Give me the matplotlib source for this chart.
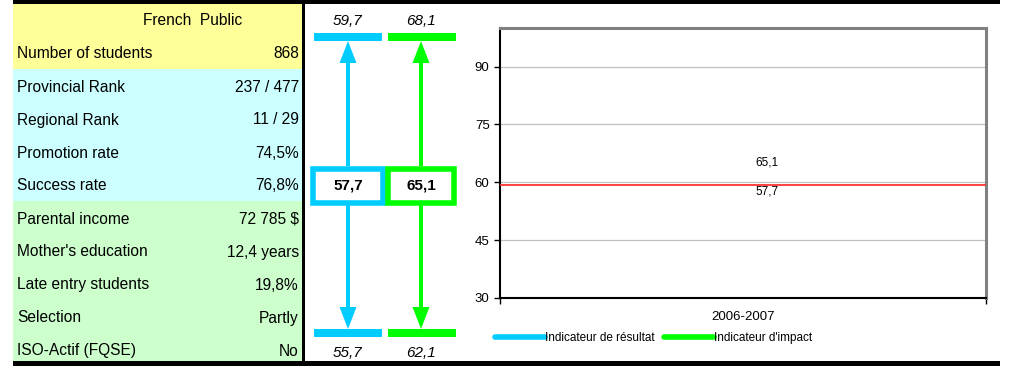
import matplotlib.pyplot as plt
from matplotlib.patches import Rectangle, FancyArrow
from matplotlib.lines import Line2D

plt.rcParams['font.family'] = ['Liberation Sans', 'DejaVu Sans']

# ── Data ───────────────────────────────────────────────────
header = 'French  Public'
row_labels = ['Number of students', 'Provincial Rank', 'Regional Rank',
              'Promotion rate', 'Success rate', 'Parental income',
              "Mother's education", 'Late entry students', 'Selection',
              'ISO-Actif (FQSE)']
row_values = ['868', '237 / 477', '11 / 29', '74,5%', '76,8%', '72 785 $',
              '12,4 years', '19,8%', 'Partly', 'No']
row_groups = ['yellow', 'cyan', 'cyan', 'cyan', 'cyan', 'green', 'green',
              'green', 'green', 'green']

# indicator ranges: (upper, value, lower)
result_range = (59.7, 57.7, 55.7)
impact_range = (68.1, 65.1, 62.1)

years = ['2006-2007']
result_series = [57.7]
impact_series = [65.1]
reference_level = 59.4
series_names = ['Indicateur de résultat', "Indicateur d'impact"]

# ── Styles ─────────────────────────────────────────────────
fill = {'yellow': '#FFFF99', 'cyan': '#CCFFFF', 'green': '#CCFFCC'}
c_result = '#00CCFF'
c_impact = '#00FF00'
W, H = 1013, 366

fig = plt.figure(figsize=(W / 100, H / 100), dpi=100)
bg = fig.add_axes([0, 0, 1, 1])
bg.set_xlim(0, W)
bg.set_ylim(H, 0)
bg.axis('off')

# ── Left table ─────────────────────────────────────────────
row_h = 33
top = 3
all_groups = ['yellow'] + row_groups
for i, grp in enumerate(all_groups):
    y0 = top + i * row_h
    bg.add_patch(Rectangle((13, y0), 289, row_h, color=fill[grp], lw=0))

bg.text(193, top + row_h / 2 + 1, header, ha='center', va='center', fontsize=11.2)
for i, (lab, val) in enumerate(zip(row_labels, row_values)):
    yc = top + (i + 1) * row_h + row_h / 2 + 1.5
    bg.text(17, yc, lab, ha='left', va='center', fontsize=11.2)
    bg.text(299, yc, val, ha='right', va='center', fontsize=11.2)

# black frame lines
bg.add_patch(Rectangle((13, 0), 987, 4, color='black', lw=0, zorder=5))
bg.add_patch(Rectangle((13, 361), 987, 5, color='black', lw=0, zorder=5))
bg.add_patch(Rectangle((302, 3), 3, 358, color='black', lw=0, zorder=5))

# ── Indicator arrows ───────────────────────────────────────
def indicator(xc, bar_x0, bar_x1, box_x0, box_x1, rng, color):
    upper, value, lower = rng
    # top and bottom bars
    bg.add_patch(Rectangle((bar_x0, 33), bar_x1 - bar_x0, 8, color=color, lw=0))
    bg.add_patch(Rectangle((bar_x0, 329), bar_x1 - bar_x0, 8, color=color, lw=0))
    # arrows
    bg.add_patch(FancyArrow(xc, 166, 0, -125, width=4, head_width=17,
                            head_length=22, length_includes_head=True,
                            color=color, lw=0))
    bg.add_patch(FancyArrow(xc, 204, 0, 125, width=4, head_width=17,
                            head_length=22, length_includes_head=True,
                            color=color, lw=0))
    # value box
    bg.add_patch(Rectangle((box_x0 + 2.5, 168.5), box_x1 - box_x0 - 5, 34,
                           facecolor='white', edgecolor=color, lw=4, zorder=3))
    bg.text(xc, 186, f'{value:.1f}'.replace('.', ','), ha='center',
            va='center', fontsize=11, fontweight='bold', zorder=4)
    bg.text(xc, 21, f'{upper:.1f}'.replace('.', ','), ha='center',
            va='center', fontsize=11, style='italic')
    bg.text(xc, 353, f'{lower:.1f}'.replace('.', ','), ha='center',
            va='center', fontsize=11, style='italic')

indicator(348, 314, 382, 310, 385, result_range, c_result)
indicator(421, 388, 456, 385, 456, impact_range, c_impact)

# ── Trend chart ────────────────────────────────────────────
ax = fig.add_axes([500 / W, (H - 298) / H, 486 / W, 270 / H])
x = list(range(len(years)))
ax.plot(x, result_series, color=c_result, lw=4, label=series_names[0])
ax.plot(x, impact_series, color=c_impact, lw=4, label=series_names[1])
ax.axhline(reference_level, color='#FF3333', lw=1.3, zorder=3)

for xs, vals in [(x, result_series), (x, impact_series)]:
    for xi, v in zip(xs, vals):
        ax.annotate(f'{v:.1f}'.replace('.', ','), (xi, v), xytext=(17, 0),
                    textcoords='offset points', ha='center', va='center',
                    fontsize=8.5)

ax.set_xlim(-0.5, len(years) - 0.5)
ax.set_ylim(30, 100)
ax.set_yticks([30, 45, 60, 75, 90])
ax.tick_params(axis='y', labelsize=9.5, length=4, width=1, direction='out')
ax.set_xticks(x)
ax.set_xticklabels(years, fontsize=9.5)
ax.tick_params(axis='x', which='major', length=0, pad=9)
ax.set_xticks([-0.5 + i for i in range(len(years) + 1)], minor=True)
ax.tick_params(axis='x', which='minor', length=4, width=1)
ax.grid(axis='y', color='#C0C0C0', lw=0.9)
ax.set_axisbelow(True)
for s in ['left', 'bottom']:
    ax.spines[s].set_color('black')
    ax.spines[s].set_linewidth(1.5)
for s in ['top', 'right']:
    ax.spines[s].set_color('#808080')
    ax.spines[s].set_linewidth(2.2)

handles = [Line2D([], [], color=c_result, lw=4, solid_capstyle='round'),
           Line2D([], [], color=c_impact, lw=4, solid_capstyle='round')]
fig.legend(handles, series_names, loc='center left',
           bbox_to_anchor=(495 / W, 1 - 338 / H), ncol=2, frameon=False,
           fontsize=8.5, handlelength=4.2, handletextpad=0.0,
           columnspacing=0.85, borderpad=0, borderaxespad=0)

fig.savefig('out.png', dpi=100)
